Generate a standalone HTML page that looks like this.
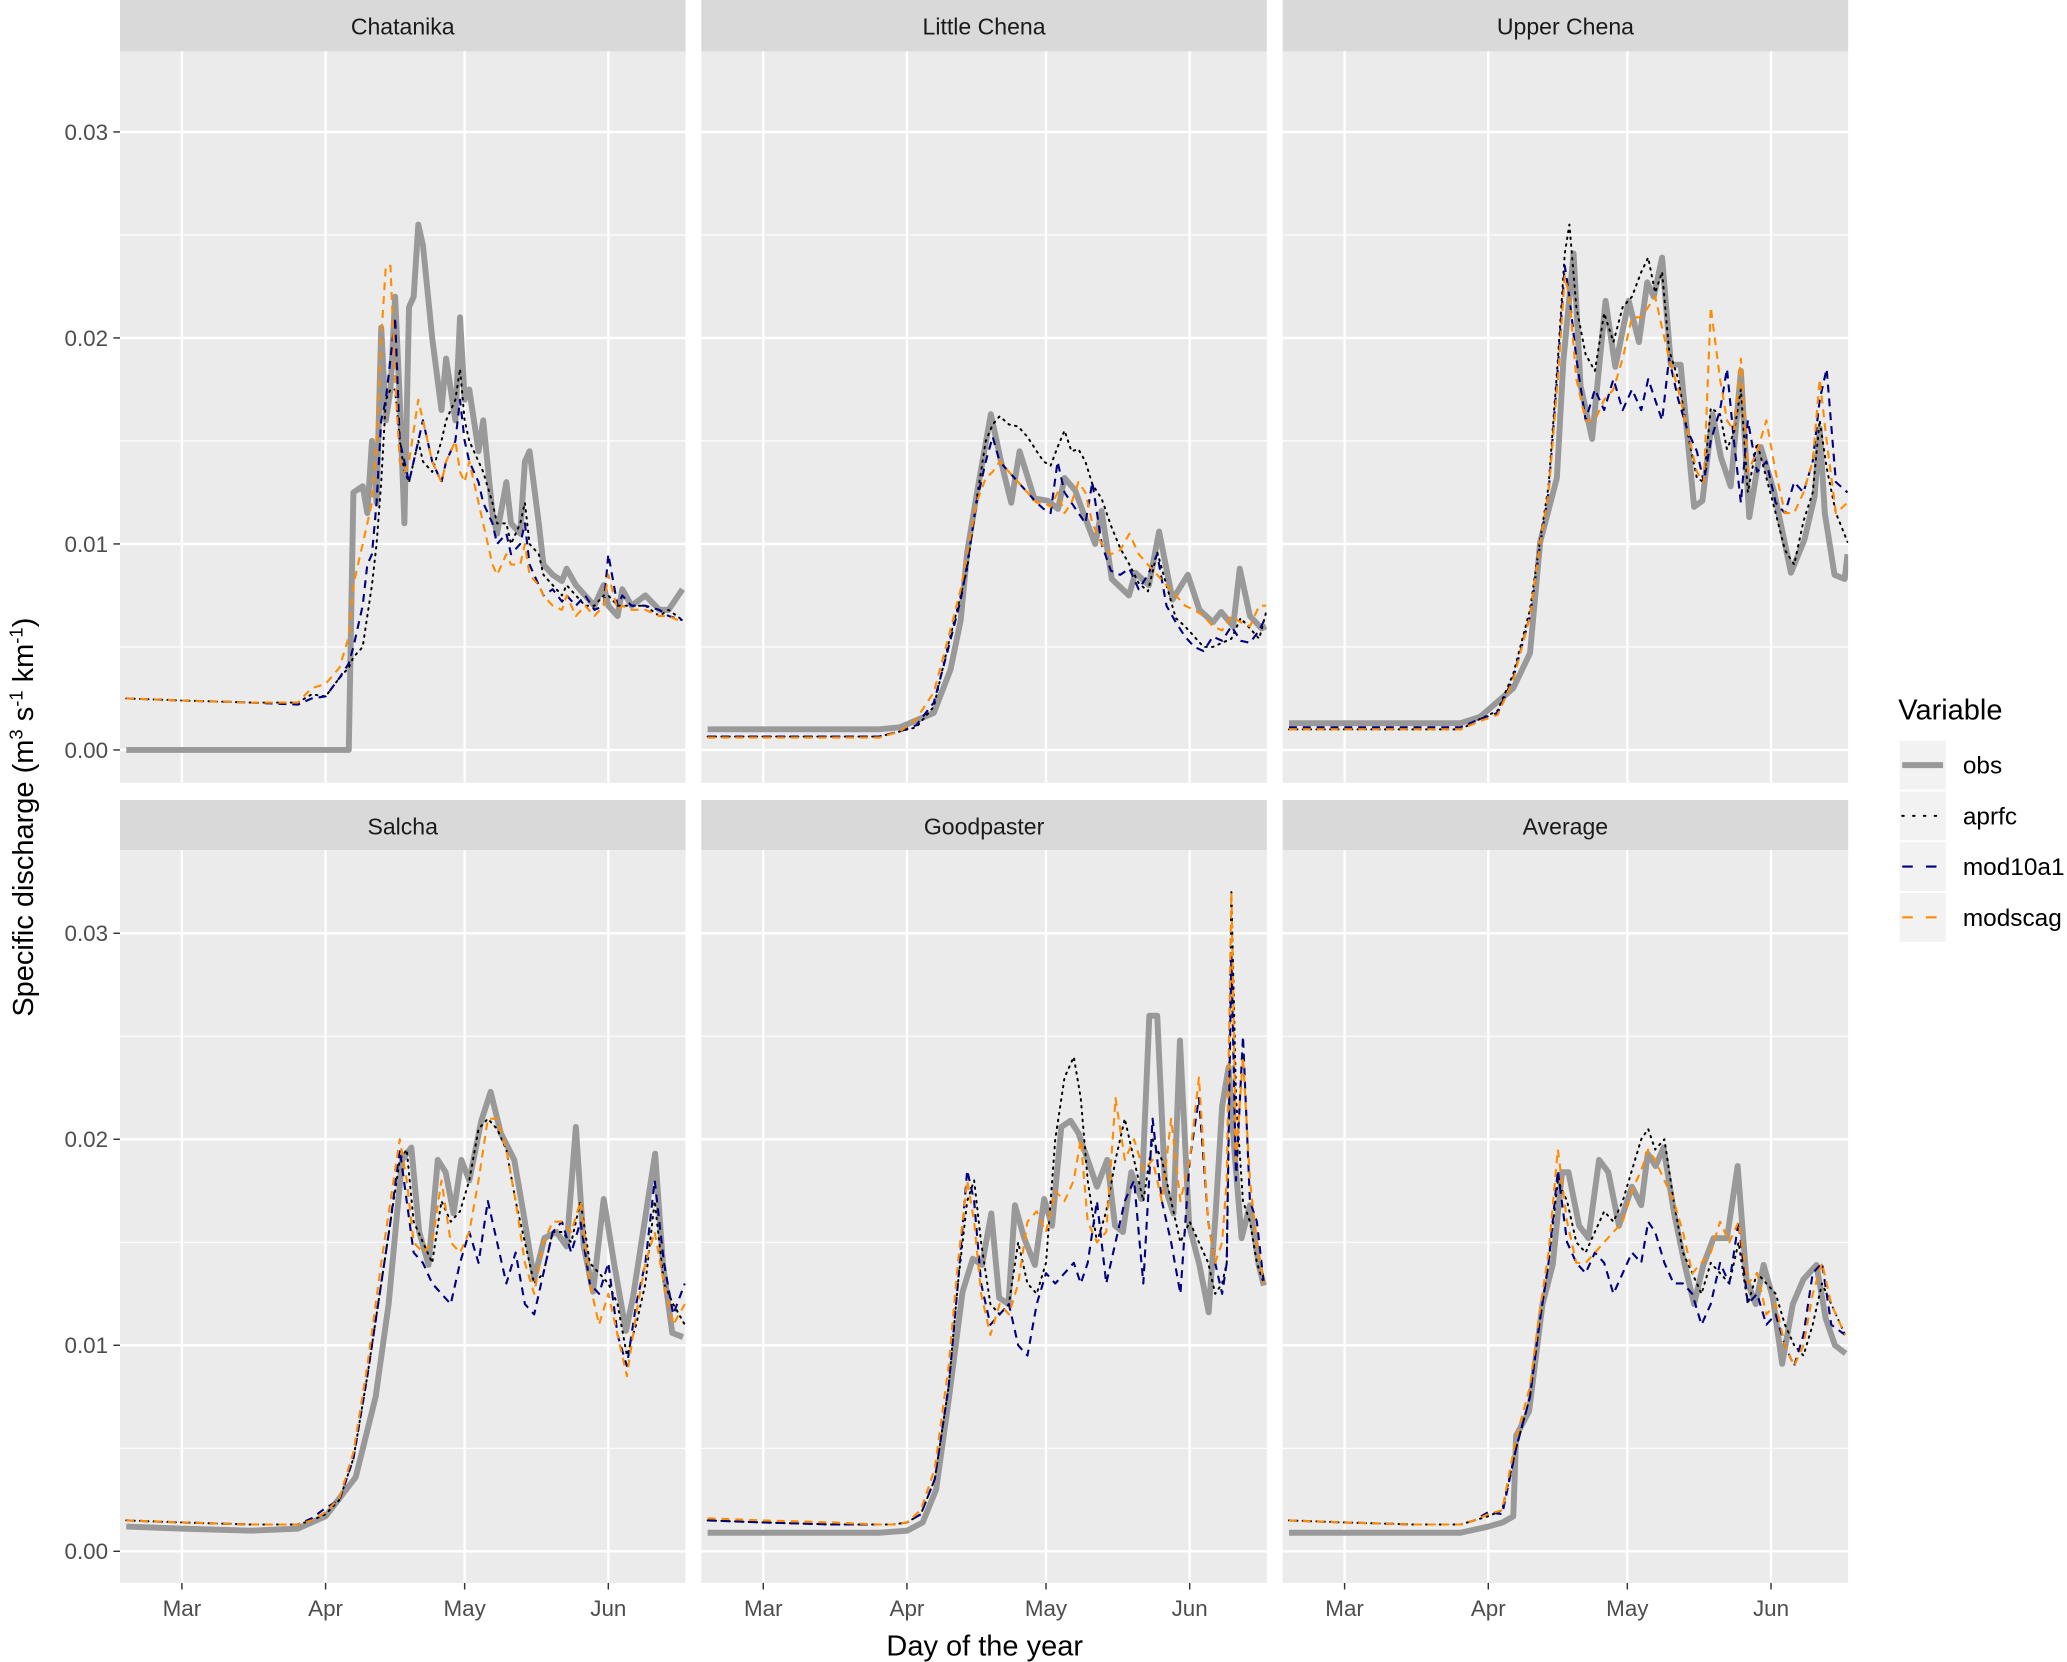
<!DOCTYPE html>
<html><head><meta charset="utf-8">
<style>
html,body{margin:0;padding:0;background:#fff;}
svg{display:block;font-family:"Liberation Sans",Arial,sans-serif;}
</style></head>
<body>
<svg id="chart" width="2067" height="1662" viewBox="0 0 1568 1261" preserveAspectRatio="none" xmlns="http://www.w3.org/2000/svg" overflow="hidden">
</svg>
<script>
// ---------- data (values in units of 0.001 m3 s-1 km-1, x = day of year) ----------
const panelNames = ["Chatanika","Little Chena","Upper Chena","Salcha","Goodpaster","Average"];
const seriesNames = ["obs","aprfc","mod10a1","modscag"];
const monthLabels = ["Mar","Apr","May","Jun"];
const monthDays = [60,91,121,152];
const yTickVals = [0,0.01,0.02,0.03];
const yTickLabels = ["0.00","0.01","0.02","0.03"];

// Chatanika
const chatDays = [48,60,75,85,88,91,94,96,97,99,100,101,102,103,104,105,106,107,108,109,110,111,112,114,116,117,119,120,121,122,124,125,127,128,130,131,133,134,135,137,138,140,142,143,145,147,149,151,152,154,155,157,160,163,165,168];
const chatObs = [0,0,0,0,0,0,0,0,12.5,12.8,11.5,15,12,20.5,16,17.5,22,17,11,21.5,22,25.5,24.5,20,16.5,19,16,21,17,17.5,14.5,16,11.5,10.5,13,11,10.5,14,14.5,11,9,8.5,8.2,8.8,8,7.5,7,8,7,6.5,7.8,7,7.5,6.8,6.8,7.8];
const chatAprfc = [2.5,2.4,2.3,2.3,2.7,2.6,3.5,4,4.5,5,6.5,8,10,13,17,17.5,17.5,15,13.5,13,14,15,14,13.5,15,16,17,18.5,16,15,14,13.5,12,11,11,10,11,12,10,9.5,8.5,8,7.5,8,7.5,7,7,7.5,7.5,7,7,7,7,6.5,6.8,6.3];
const chatMod10a1 = [2.5,2.4,2.3,2.2,2.5,2.6,3.5,4.2,5,7,9,9.5,12,16,17,19,21,15,14,13,14,15,16,14,13,14,15,17,15,14,13,12,11,10,10.5,9.5,10,11,9,8,7.5,7.8,7.2,7.5,7,7.5,6.8,7,9.5,7,7.5,7,7,6.8,6.5,6.3];
const chatModscag = [2.5,2.4,2.3,2.3,3,3.2,4,5.5,8,10,11,12,15,20,23.5,23.5,18,14,13.5,14,15.5,17,16,14,13,14,15,13.5,13,14,12,11,9,8.5,9.5,9,9,10,8.5,8,7.5,7,6.8,7.5,6.5,7,6.5,7,8.5,6.8,7,6.8,6.8,6.5,6.5,6.2];

// Little Chena
const lcObsDays = [48,70,85,89.5,96.8,100.4,102.6,104,106.2,109.1,111.3,113.5,115.3,118.5,121.4,123.6,125,127.3,129.4,131.6,133,135.2,138.9,140.3,143.2,145.4,148.3,151.6,154.1,157,158.8,161.4,162.8,165,167.5,168.5];
const lcObs = [1.0,1.0,1.0,1.1,1.8,3.9,6.3,9.6,12.6,16.3,14,12,14.5,12.2,12.1,11.7,13.2,12.6,11.3,10,11.6,8.3,7.5,8.6,8,10.6,7.3,8.5,6.8,6.2,6.7,6,8.8,6.5,5.9,6.0];
const lcModDays = [48,70,85,89.5,93,96.8,100,102.6,104,106,108,109.5,111,113,115,117,119,120.5,122,123.5,125,126.5,128,129.5,131,133,135,137,139,141,143,145,147,149,151,153,155,157,159,161,163,165,167,168.5];
const lcAprfc = [0.65,0.65,0.65,0.9,1.1,2.1,5.2,7.5,8.8,12.1,15,15.8,16.2,15.8,15.7,15.2,14.5,14,13.8,14.7,15.5,14.5,14.6,14,12.9,12.2,10.9,9.8,9,8.1,7.7,9.6,8,6.4,6,5.5,5,5,5.2,5.4,6.4,5.9,5.4,6.7];
const lcMod10a1 = [0.65,0.65,0.65,0.9,1.2,2.3,5,7.3,9,12,14,15.2,14,13.5,13,12.5,12,11.7,11.5,14,12.5,12,11.5,11,13,10,8.7,8.5,8.8,7.8,8.5,9.5,7,6.2,5.5,5,4.8,5.5,5.3,6,5.3,5.2,5.8,6.5];
const lcModscag = [0.6,0.6,0.6,0.9,1.5,2.8,5.5,7.8,9.5,12,13.2,13.5,14,13.5,13,12.5,12,12,11.8,12.5,11.5,12,13,12.5,11,10,9.5,9.7,10.5,9.5,9,8.5,8,7.5,7,6.8,6.5,6,5.8,6.5,6.2,6,7,7];

// Upper Chena
const ucObsDays = [48,70,85,89.2,96.4,100,102.2,105.8,107.2,109.4,110.9,113.4,116.3,118.4,121.3,123.5,125.3,126.7,128.5,130.4,132.5,135.4,137.2,139.4,141.2,143.3,145.5,147.3,149.8,152.7,156.3,159.2,161.4,162.5,163.6,165.7,167.9,168.5];
const ucObs = [1.3,1.3,1.3,1.6,3,4.7,10.1,13.2,18.9,24.1,17.7,15.1,21.8,18.6,21.8,19.8,22.7,22,23.9,18.7,18.7,11.8,12.1,16.3,14.2,12.8,18.4,11.3,14.7,12.5,8.6,10.2,12.3,15.6,11.5,8.5,8.3,9.5];
const ucModDays = [48,70,85,89.2,93,96.4,100,102.2,104,106,107.5,108.5,110,112,114,116,118,120,122,124,125.5,127,128.5,130,132,134,136,137.5,139,141,142.5,144,145.5,147,149,151,153,155,157,159,161,162.5,164,166,168.5];
const ucAprfc = [1.0,1.0,1.0,1.5,1.9,3.7,6.8,10.2,12.8,18.9,24.1,25.5,21.5,19.2,18.4,21.2,19.8,21.5,22,23.2,23.9,22.2,23.2,19.4,18,15.4,13.2,13,16.6,16.3,14.6,15.4,17.5,12.5,14.9,13.2,11.5,9.7,9,11.1,12.5,16,13.7,11.5,10.1];
const ucMod10a1 = [1.1,1.1,1.1,1.5,1.8,3.5,6.5,10,12.5,18.5,23.5,22,19,16,17.5,16.5,18,16.5,17.5,16.5,18,17,16,19,17,15.5,14.5,13,15,16.5,18.5,15,12,16,13.5,14,12,11.5,13,12.5,14,17,18.5,13,12.5];
const ucModscag = [1.0,1.0,1.0,1.4,1.7,3.4,6.5,10,12.5,18,23,22,18,16,16,17,17.5,19,21,21,21.5,22,20.5,19,17.5,15.5,13.5,13,21.5,18,16,15.5,19,13.5,14.5,16,13.5,11.5,11.5,12.5,14,18,15,11.5,12];

// Salcha
const saObsDays = [48,60,75,85,91,97.5,101.8,104.6,107.5,109.5,111.2,113.2,115.2,116.9,118.6,120.3,122,124.6,126.6,128.8,131.7,133.7,136,138.2,140.8,143,145,146.7,148.7,151,153.3,155.8,157.3,160.1,162.1,163.8,165.8,168.1];
const saObs = [1.2,1.1,1.0,1.1,1.7,3.6,7.5,12,19,19.6,15.5,13.9,19,18.4,16.4,19,18,20.9,22.3,20.3,19,16.4,13.2,15.2,15.5,14.8,20.6,14.8,12.6,17.1,13.9,10.7,12.3,16.4,19.3,13.9,10.6,10.4];
const saModDays = [48,60,75,85,88,91,94,97,100,103,105,107,108.5,110,112,114,116,118,120,122,124,126,128,130,132,134,136,138,140,142,144,146,148,150,152,154,156,158,160,162,164,166,168.5];
const saAprfc = [1.5,1.4,1.3,1.3,1.5,1.8,2.5,4.5,8.5,13,16,19,19.5,16,15,14,17,16,16.5,18,20.5,21,20.5,19.5,17,15,13,13.5,15.5,15.5,15,17,14,13.5,13,12,9.5,11,13,17,13,12,11];
const saMod10a1 = [1.5,1.4,1.3,1.3,1.6,2.1,2.5,4.5,8.5,13,16,19.5,17,14.5,14,13,12.5,12,14,15.5,14,17,15,13,14.5,12,11.5,13.5,15.5,16,14.5,16,13,12.5,14,10.5,9,12,14,18,14,11.5,13];
const saModscag = [1.5,1.4,1.3,1.3,1.5,1.9,2.6,4.8,9,14,17,20,18,15,14.5,15,18,15,14.5,15.5,18,21,21,19.5,17,14,12.5,15,16,16,15.5,17,13,11,12.5,10.5,8.5,11.5,14,15.5,13,11,12];

// Goodpaster
const gpObsDays = [48,70,85,91,94.4,97.3,100.1,103,105.2,107.2,109.2,110.9,112.9,114.3,116.3,118.6,120.6,122.3,124.3,126.3,128,130,132,134.2,135.9,137.6,139.4,141.6,143.3,145,146.7,148.5,149.9,151.9,154.1,156.1,157.6,159,160.4,161.8,163.2,165,166.9,168];
const gpObs = [0.9,0.9,0.9,1.0,1.4,3,7.5,12.6,14.2,13.9,16.4,12.3,12,16.8,15.2,13.9,17.1,15.8,20.6,20.9,20.3,19,17.7,19,15.8,15.5,18.4,17.1,26,26,17.7,16.4,24.8,15.8,13.9,11.6,16.4,21.6,23.5,19,15.2,16.8,13.9,12.9];
const gpModDays = [48,60,75,85,88,91,94,97,100,102,104,105.5,107,109,111,113,115,117,119,121,123,125,127,128.5,130,132,134,136,138,140,142,144,146,148,150,152,154,156,157.5,159,160,161,162,163.5,165,166.5,168];
const gpAprfc = [1.5,1.4,1.3,1.3,1.3,1.4,1.8,3.5,8,13,17,18,15,12,11.5,12,15,13,12.5,14,20,23,24,22,18,15,16.5,19,21,19,17,20,19,17,15,16,15,14,12.5,13,14,32,22,17,16,14,13];
const gpMod10a1 = [1.5,1.4,1.3,1.3,1.3,1.4,1.8,3.5,8,13,18.5,17,13,11,11.5,12,10,9.5,12,13.5,13,13.5,14,13,14,17,13,15,17,18,13,21,17,15,12.5,19,22,16,14,12.5,14,29,18,25,17,16,13];
const gpModscag = [1.6,1.5,1.4,1.3,1.3,1.4,2,4,9,14,18,16,12.5,10.5,12,11.5,13,16,16.5,15.5,17.5,17,18,20,16,15,15.5,22,19,20,18.5,19,17,21,17,19,23,16,14,15,18,32,19,24,18,15,13];

// Average
const avObsDays = [48,70,85,91,94.1,96.4,97,99.8,102.7,104.9,106.9,108.3,110.6,112.6,114.9,116.9,119.2,122,124,125.4,127.1,128.8,131.1,133.4,135.4,137.4,139.6,142.5,144.8,146.7,148.7,150.4,152.4,154.4,156.7,159,161.8,163.8,165.8,168.1];
const avObs = [0.9,0.9,0.9,1.2,1.4,1.7,5.6,6.8,12,13.9,18.4,18.4,15.8,15.2,19,18.4,15.8,17.7,16.8,19.3,18.7,19.6,16.4,13.9,12,13.9,15.2,15.2,18.7,13.2,12,13.9,12.3,9.1,12,13.2,13.9,11.3,10,9.6];
const avModDays = [48,60,75,85,88,91,94,97,100,102,104,106,108,110,112,114,116,118,120,122,124,125.5,127,129,131,133,135,137,139,141,143,145,147,149,151,153,155,157,159,161,163,165,168];
const avAprfc = [1.5,1.4,1.3,1.3,1.5,1.7,2,5,7.5,11,14,18,17,15,14.5,15.5,16.5,16,17,18.5,20,20.5,19.5,20,17,14.5,13.5,12.5,14,13.5,13,15,12,13.5,13,12.5,11,10,9.5,11,13,12,10.5];
const avMod10a1 = [1.5,1.4,1.3,1.3,1.5,1.9,1.8,5,7.5,11,14,18.5,15,14,13.5,14.5,14,12.5,13.5,14.5,14,16,15.5,14,13,13,12.5,11,12,14,13,16,12,12.5,11,11.5,10,9,10.5,13.5,14,11,10.5];
const avModscag = [1.5,1.4,1.3,1.3,1.5,1.8,2,5.5,8,11.5,14.5,19.5,16,14,14,14.5,15,15.5,16,17.5,18.5,19.5,19,18,17,15.5,13.5,14,14.5,16,15,16,13,13.5,11.5,12,10,9,10,12.5,14,12,10.5];

// ---------- layout ----------
const NS = "http://www.w3.org/2000/svg";
const svg = document.getElementById("chart");
const panelLefts = [91,532,973];
const panelW = 429;
const rows = [{stripTop:0, top:39, bottom:594, zeroY:569},{stripTop:607, top:645, bottom:1201, zeroY:1177}];
const pxPerUnit = 15630;
const pxPerDay = 3.516;

function xScale(panelLeft, doy){ return panelLeft + 47 + (doy - 60) * pxPerDay; }
function yScale(row, v){ return row.zeroY - v * pxPerUnit; }

function mk(tag, attrs, parent){
  const e = document.createElementNS(NS, tag);
  for (const k in attrs) e.setAttribute(k, attrs[k]);
  (parent || svg).appendChild(e);
  return e;
}

const panelSeries = [
  [[chatDays,chatObs],[chatDays,chatAprfc],[chatDays,chatMod10a1],[chatDays,chatModscag]],
  [[lcObsDays,lcObs],[lcModDays,lcAprfc],[lcModDays,lcMod10a1],[lcModDays,lcModscag]],
  [[ucObsDays,ucObs],[ucModDays,ucAprfc],[ucModDays,ucMod10a1],[ucModDays,ucModscag]],
  [[saObsDays,saObs],[saModDays,saAprfc],[saModDays,saMod10a1],[saModDays,saModscag]],
  [[gpObsDays,gpObs],[gpModDays,gpAprfc],[gpModDays,gpMod10a1],[gpModDays,gpModscag]],
  [[avObsDays,avObs],[avModDays,avAprfc],[avModDays,avMod10a1],[avModDays,avModscag]]
];
const seriesStyle = [
  {stroke:"#999999", w:4.5, dash:""},
  {stroke:"#000000", w:1.5, dash:"1.2 4"},
  {stroke:"#00007F", w:1.6, dash:"6 4.5"},
  {stroke:"#FF8C00", w:1.6, dash:"6 4.5"}
];

const defs = mk("defs", {});

for (let p = 0; p < 6; p++){
  const row = rows[Math.floor(p/3)];
  const left = panelLefts[p%3];
  const g = mk("g", {});
  
  

  const strip = mk("rect", {x:left, y:row.stripTop, width:panelW, height:row.top-row.stripTop, fill:"#D9D9D9"}, g);
  
  
  const st = mk("text", {x:left+panelW/2, y:row.stripTop+26, "text-anchor":"middle", "font-size":"17.5", fill:"#1A1A1A"}, g);
  st.textContent = panelNames[p];
  
  

  const bg = mk("rect", {x:left, y:row.top, width:panelW, height:row.bottom-row.top, fill:"#EBEBEB"}, g);
  
  

  [0.005,0.015,0.025].forEach(v=>{
    const y = yScale(row, v);
    const l = mk("line", {x1:left, x2:left+panelW, y1:y, y2:y, stroke:"#fff", "stroke-width":0.8}, g);
    
    
  });
  yTickVals.forEach(v=>{
    const y = yScale(row, v);
    const l = mk("line", {x1:left, x2:left+panelW, y1:y, y2:y, stroke:"#fff", "stroke-width":1.8}, g);
    
    
  });
  monthDays.forEach(d=>{
    const x = xScale(left, d);
    const l = mk("line", {x1:x, x2:x, y1:row.top, y2:row.bottom, stroke:"#fff", "stroke-width":1.8}, g);
    
    
  });

  const cid = "clip" + p;
  const cp = mk("clipPath", {id:cid}, defs);
  mk("rect", {x:left, y:row.top, width:panelW, height:row.bottom-row.top}, cp);
  const lg = mk("g", {"clip-path":"url(#"+cid+")"}, g);

  for (let s = 0; s < 4; s++){
    const [days, vals] = panelSeries[p][s];
    const n = Math.min(days.length, vals.length);
    let dstr = "";
    for (let i = 0; i < n; i++){
      dstr += (i ? "L" : "M") + xScale(left, days[i]).toFixed(2) + "," + yScale(row, vals[i]/1000).toFixed(2);
    }
    const st2 = seriesStyle[s];
    const path = mk("path", {d:dstr, fill:"none", stroke:st2.stroke, "stroke-width":st2.w, "stroke-linejoin":"round", "stroke-linecap":s===1?"round":"butt"}, lg);
    if (st2.dash) path.setAttribute("stroke-dasharray", st2.dash);
    
    
  }

  if (p % 3 === 0){
    yTickVals.forEach((v,i)=>{
      const y = yScale(row, v);
      const t = mk("line", {x1:left-5, x2:left, y1:y, y2:y, stroke:"#333", "stroke-width":1.1}, g);
      
      
      const tx = mk("text", {x:left-9, y:y+6, "text-anchor":"end", "font-size":"17", fill:"#4D4D4D"}, g);
      tx.textContent = yTickLabels[i];
      
      
    });
  }
  if (p >= 3){
    monthDays.forEach((d,i)=>{
      const x = xScale(left, d);
      const t = mk("line", {x1:x, x2:x, y1:row.bottom, y2:row.bottom+5, stroke:"#333", "stroke-width":1.1}, g);
      
      
      const tx = mk("text", {x:x, y:row.bottom+25, "text-anchor":"middle", "font-size":"17", fill:"#4D4D4D"}, g);
      tx.textContent = monthLabels[i];
      
      
    });
  }
}

const xt = mk("text", {x:747, y:1256, "text-anchor":"middle", "font-size":"22", fill:"#000"});
xt.textContent = "Day of the year";



const yt = mk("text", {x:0, y:0, "text-anchor":"middle", "font-size":"22", fill:"#000", transform:"translate(25,620) rotate(-90)"});


yt.innerHTML = 'Specific discharge (m<tspan dy="-8" font-size="14">3</tspan><tspan dy="8"> s</tspan><tspan dy="-8" font-size="14">-1</tspan><tspan dy="8"> km</tspan><tspan dy="-8" font-size="14">-1</tspan><tspan dy="8">)</tspan>';

const leg = mk("g", {});


const lt = mk("text", {x:1440, y:546, "font-size":"22", fill:"#000"}, leg);
lt.textContent = "Variable";


const keyTops = [562,600.5,639,677.5];
for (let s = 0; s < 4; s++){
  const ky = keyTops[s];
  const kg = mk("g", {}, leg);
  
  
  mk("rect", {x:1441, y:ky, width:35, height:37, fill:"#F2F2F2"}, kg);
  const st2 = seriesStyle[s];
  const kl = mk("line", {x1:1443, x2:1474, y1:ky+18.5, y2:ky+18.5, stroke:st2.stroke, "stroke-width":st2.w}, kg);
  if (st2.dash) kl.setAttribute("stroke-dasharray", s===1 ? "1.2 7" : "8 10");
  if (s===1) kl.setAttribute("stroke-linecap","round");
  const tx = mk("text", {x:1489, y:ky+25, "font-size":"18.5", fill:"#000"}, kg);
  tx.textContent = seriesNames[s];
  
  
}
</script>
</body></html>
